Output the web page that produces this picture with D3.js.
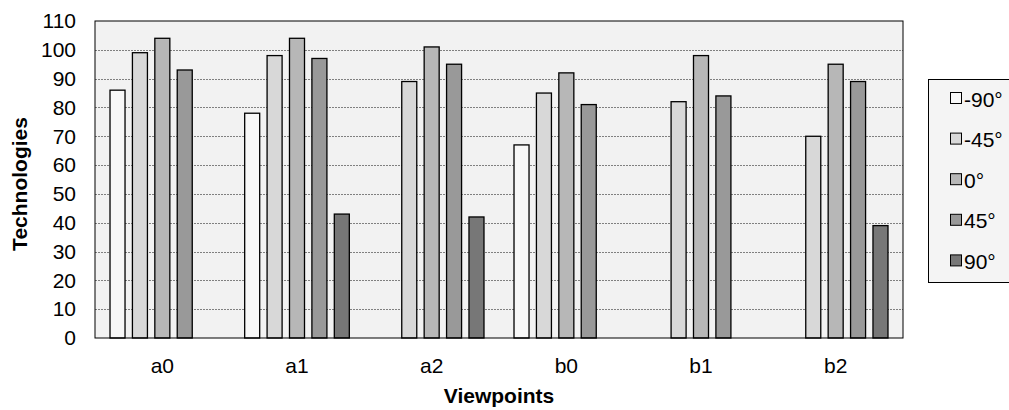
<!DOCTYPE html>
<html>
<head>
<meta charset="utf-8">
<style>
  body { margin: 0; background: #fff; font-family: "Liberation Sans", Arial, sans-serif; }
  .tick text { font-size: 21px; fill: #000; font-family: "Liberation Sans", Arial, sans-serif; }
</style>
</head>
<body>
<div id="chart"></div>
<script src="https://cdn.jsdelivr.net/npm/d3@7"></script>
<script>
// data
var viewpoints = ["a0", "a1", "a2", "b0", "b1", "b2"];
var angles = ["-90°", "-45°", "0°", "45°", "90°"];
var v_m90 = [86, 78, 0, 67, 0, 0];
var v_m45 = [99, 98, 89, 85, 82, 70];
var v_0   = [104, 104, 101, 92, 98, 95];
var v_45  = [93, 97, 95, 81, 84, 89];
var v_90  = [0, 43, 42, 0, 0, 39];
var yTicks = [0, 10, 20, 30, 40, 50, 60, 70, 80, 90, 100, 110];
var fills = ["#f8f8f8", "#d8d8d8", "#b7b7b7", "#999999", "#777777"];

var series = [v_m90, v_m45, v_0, v_45, v_90];

var width = 1009, height = 410;
var margin = { left: 95, top: 21, right: 106, bottom: 72 };
var w = width - margin.left - margin.right,
    h = height - margin.top - margin.bottom;

var svg = d3.select("#chart").append("svg")
    .attr("width", width)
    .attr("height", height);

var g = svg.append("g").attr("transform", "translate(" + margin.left + "," + margin.top + ")");

var x0 = d3.scaleBand().domain(viewpoints).range([0, w]).padding(0);
var x1 = d3.scaleBand().domain(angles).range([0, x0.bandwidth()])
    .paddingInner(0.33).paddingOuter(0.67);
var y = d3.scaleLinear().domain([0, 110]).range([h, 0]);

// plot background
g.append("rect")
    .attr("width", w).attr("height", h)
    .attr("fill", "#f2f2f2");

// gridlines
g.selectAll(".grid")
    .data(yTicks.filter(function (d) { return d > 0 && d < 110; }))
    .enter().append("line")
    .attr("x1", 0).attr("x2", w)
    .attr("y1", function (d) { return Math.round(y(d)) + 0.5; })
    .attr("y2", function (d) { return Math.round(y(d)) + 0.5; })
    .attr("stroke", "#808080")
    .attr("stroke-width", 1)
    .attr("stroke-dasharray", "2,1");

// bars
var rows = [];
viewpoints.forEach(function (vp, i) {
    angles.forEach(function (a, j) {
        if (series[j][i] > 0) rows.push({ vp: vp, angle: a, idx: j, value: series[j][i] });
    });
});

g.selectAll(".bar")
    .data(rows)
    .enter().append("rect")
    .attr("class", "bar")
    .attr("x", function (d) { return x0(d.vp) + x1(d.angle); })
    .attr("y", function (d) { return y(d.value); })
    .attr("width", x1.bandwidth())
    .attr("height", function (d) { return h - y(d.value); })
    .attr("fill", function (d) { return fills[d.idx]; })
    .attr("stroke", "#000")
    .attr("stroke-width", 1.3);

// frame
g.append("rect")
    .attr("width", w).attr("height", h)
    .attr("fill", "none")
    .attr("stroke", "#000")
    .attr("stroke-width", 1);

// axes
var yAxis = g.append("g")
    .call(d3.axisLeft(y).tickValues(yTicks).tickSize(0).tickPadding(19));
yAxis.select(".domain").remove();

var xAxis = g.append("g")
    .attr("transform", "translate(0," + h + ")")
    .call(d3.axisBottom(x0).tickSize(0));
xAxis.select(".domain").remove();
xAxis.selectAll(".tick text").attr("y", 35).attr("dy", 0);

// axis titles
svg.append("text")
    .attr("x", margin.left + w / 2)
    .attr("y", 403)
    .attr("text-anchor", "middle")
    .style("font-size", "21px")
    .style("font-weight", "bold")
    .text("Viewpoints");

svg.append("text")
    .attr("transform", "translate(27," + 184 + ") rotate(-90)")
    .attr("text-anchor", "middle")
    .style("font-size", "21px")
    .style("font-weight", "bold")
    .text("Technologies");

// legend
var lg = svg.append("g").attr("transform", "translate(928,79)");
lg.append("rect")
    .attr("x", 0.5).attr("y", 0.5)
    .attr("width", 100).attr("height", 203)
    .attr("fill", "#f4f4f4")
    .attr("stroke", "#000");

var items = lg.selectAll(".item")
    .data(angles)
    .enter().append("g")
    .attr("transform", function (d, i) { return "translate(0," + (20 + i * 40.6) + ")"; });

items.append("rect")
    .attr("x", 22.5).attr("y", -6.5)
    .attr("width", 11).attr("height", 11)
    .attr("fill", function (d, i) { return fills[i]; })
    .attr("stroke", "#000");

items.append("text")
    .attr("x", 36)
    .attr("y", 7.5)
    .style("font-size", "21px")
    .text(function (d) { return d; });
</script>
</body>
</html>
